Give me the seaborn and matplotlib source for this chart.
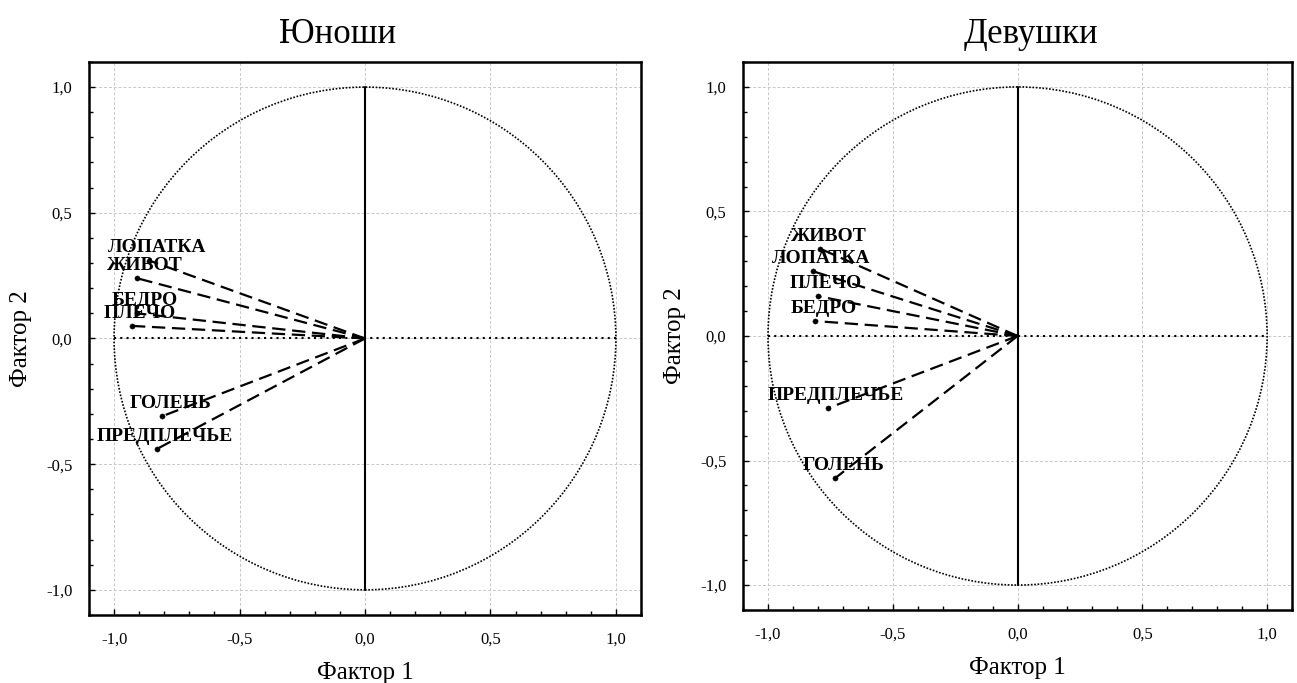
import numpy as np
import pandas as pd
import matplotlib
matplotlib.use("Agg")
import matplotlib.pyplot as plt
from matplotlib.patches import Circle
from matplotlib.ticker import MultipleLocator, FuncFormatter
import seaborn as sns

# factor loadings
boys_vars = ["ЛОПАТКА", "ЖИВОТ", "БЕДРО", "ПЛЕЧО", "ГОЛЕНЬ", "ПРЕДПЛЕЧЬЕ"]
boys_f1 = [-0.86, -0.91, -0.91, -0.93, -0.81, -0.83]
boys_f2 = [0.31, 0.24, 0.10, 0.05, -0.31, -0.44]

girls_vars = ["ЖИВОТ", "ЛОПАТКА", "ПЛЕЧО", "БЕДРО", "ПРЕДПЛЕЧЬЕ", "ГОЛЕНЬ"]
girls_f1 = [-0.79, -0.82, -0.80, -0.81, -0.76, -0.73]
girls_f2 = [0.35, 0.26, 0.16, 0.06, -0.29, -0.57]

titles = ["Юноши", "Девушки"]
tick_vals = [-1.0, -0.5, 0.0, 0.5, 1.0]

sns.set_style("white")
plt.rcParams['font.family'] = ['Liberation Serif', 'DejaVu Serif']
plt.rcParams['text.color'] = 'black'
plt.rcParams['axes.labelcolor'] = 'black'
plt.rcParams['xtick.color'] = 'black'
plt.rcParams['ytick.color'] = 'black'

fig = plt.figure(figsize=(12.97, 6.83), dpi=100)
ax1 = fig.add_axes([0.0686, 0.0996, 0.4256, 0.8097])
ax2 = fig.add_axes([0.5729, 0.1069, 0.4233, 0.8023])


def draw_panel(ax, names, f1, f2, title, title_x):
    # one segment per variable: origin -> loading
    rows = []
    for n, a, b in zip(names, f1, f2):
        rows.append({"var": n, "f1": 0.0, "f2": 0.0})
        rows.append({"var": n, "f1": a, "f2": b})
    seg = pd.DataFrame(rows)
    pts = pd.DataFrame({"var": names, "f1": f1, "f2": f2})

    ax.grid(True, color="#c8c8c8", linestyle=(0, (3, 2)), linewidth=0.7)
    ax.set_axisbelow(True)

    ax.add_patch(Circle((0, 0), 1.0, fill=False, linestyle=(0, (1, 1)),
                        linewidth=1.2, color="black", zorder=2))
    ax.plot([0, 0], [-1, 1], color="black", linewidth=1.5, zorder=2)
    ax.plot([-1, 1], [0, 0], color="black", linewidth=1.5,
            linestyle=(0, (1, 2)), zorder=2)

    sns.lineplot(data=seg, x="f1", y="f2", units="var", estimator=None,
                 sort=False, color="black", linewidth=1.6, ax=ax,
                 linestyle=(0, (6, 3)), zorder=3)
    sns.scatterplot(data=pts, x="f1", y="f2", color="black", s=14,
                    edgecolor="black", ax=ax, zorder=4)
    for n, a, b in zip(names, f1, f2):
        ax.annotate(n, (a, b), xytext=(6, 3), textcoords="offset points",
                    ha="center", va="bottom", fontsize=14,
                    fontweight="bold", color="black", zorder=5)

    ax.set_xlim(-1.1, 1.1)
    ax.set_ylim(-1.1, 1.1)
    ax.set_xticks(tick_vals)
    ax.set_yticks(tick_vals)
    ax.xaxis.set_minor_locator(MultipleLocator(0.1))
    ax.yaxis.set_minor_locator(MultipleLocator(0.1))
    fmt = FuncFormatter(lambda v, p: f"{v:.1f}".replace(".", ","))
    ax.xaxis.set_major_formatter(fmt)
    ax.yaxis.set_major_formatter(fmt)
    ax.tick_params(which="both", direction="in", color="black",
                   labelsize=12, bottom=True, left=True)
    ax.tick_params(which="major", length=4, width=1, pad=12)
    ax.tick_params(which="minor", length=3, width=1)
    for s in ax.spines.values():
        s.set_color("black")
        s.set_linewidth(1.8)
    ax.set_xlabel("Фактор 1", fontsize=18, labelpad=10)
    ax.set_ylabel("Фактор 2", fontsize=18, labelpad=10)
    ax.set_title(title, fontsize=25, pad=14, x=title_x)


draw_panel(ax1, boys_vars, boys_f1, boys_f2, titles[0], 0.45)
draw_panel(ax2, girls_vars, girls_f1, girls_f2, titles[1], 0.525)

fig.savefig("out.png", dpi=100)
